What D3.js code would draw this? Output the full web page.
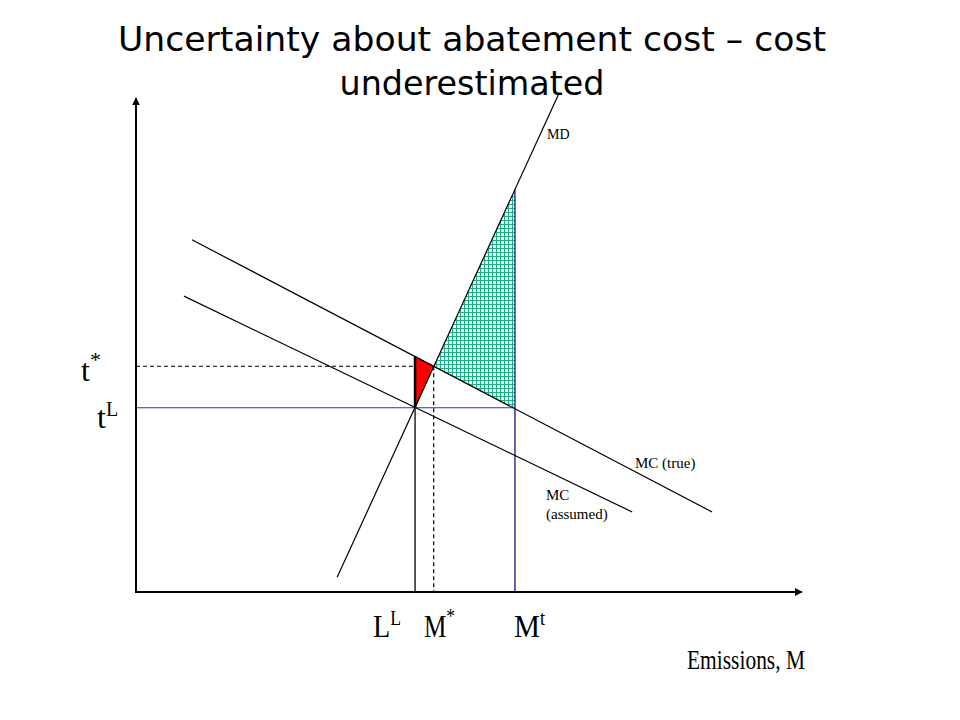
<!DOCTYPE html>
<html><head><meta charset="utf-8">
<script src="https://cdn.jsdelivr.net/npm/d3@7/dist/d3.min.js"></script>
<style>body{margin:0;background:#fff;}svg{display:block;}</style>
</head><body>
<script>
// ---- data (chart units: emissions 0..100, price 0..100) ----
const titleLines = ["Uncertainty about abatement cost \u2013 cost", "underestimated"];
const mdLine = [[30.2, 3.0], [63.4, 100.6]];          // marginal damage
const mcTrueLine = [[8.4, 71.3], [86.5, 16.2]];       // MC (true)
const mcAssumedLine = [[7.2, 59.9], [74.5, 16.2]];    // MC (assumed)
const xMarks = { LL: 41.9, Mstar: 44.7, Mt: 56.9 };
const yMarks = { tstar: 45.7, tL: 37.3 };
const lineLabels = ["MD", "MC (true)", "MC", "(assumed)"];

const W = 960, H = 720;
const x = d3.scaleLinear().domain([0, 100]).range([136, 802]);
const y = d3.scaleLinear().domain([0, 100]).range([592, 98]);

function at(line, xv) {
  const [[x0, y0], [x1, y1]] = line;
  return y0 + (y1 - y0) * (xv - x0) / (x1 - x0);
}

const svg = d3.select("body").append("svg").attr("width", W).attr("height", H);
const defs = svg.append("defs");
const pat = defs.append("pattern").attr("id", "grid").attr("patternUnits", "userSpaceOnUse")
  .attr("width", 4).attr("height", 4);
pat.append("rect").attr("width", 4).attr("height", 4).attr("fill", "#e8fff7");
pat.append("path").attr("d", "M0,0.5H4M0.5,0V4").attr("stroke", "#21ad86").attr("stroke-width", 1.2);
defs.append("marker").attr("id", "arr").attr("viewBox", "0 0 10 10").attr("refX", 9).attr("refY", 5)
  .attr("markerWidth", 8).attr("markerHeight", 8).attr("markerUnits", "userSpaceOnUse").attr("orient", "auto")
  .append("path").attr("d", "M0,0L10,5L0,10Z").attr("fill", "#000");

// title
const titleWidths = [708, 265];
svg.append("g").selectAll("text").data(titleLines).join("text")
  .attr("x", (d, i) => 472 - titleWidths[i] / 2).attr("y", (d, i) => 51 + i * 44)
  .attr("textLength", (d, i) => titleWidths[i]).attr("lengthAdjust", "spacingAndGlyphs")
  .attr("font-family", "'Comic Sans MS', 'DejaVu Sans', sans-serif").attr("font-size", 34)
  .attr("fill", "#000").text(d => d);

const lineGen = d3.line().x(d => x(d[0])).y(d => y(d[1]));

// shaded areas
const ms = xMarks.Mstar, mt = xMarks.Mt, ll = xMarks.LL;
const green = [[ms, at(mdLine, ms)], [mt, at(mdLine, mt)], [mt, at(mcTrueLine, mt)]];
svg.append("path").attr("d", lineGen(green) + "Z").attr("fill", "url(#grid)");
const red = [[ll, at(mcTrueLine, ll)], [ms, at(mcTrueLine, ms)], [ll, yMarks.tL]];
svg.append("path").attr("d", lineGen(red) + "Z").attr("fill", "#ff0000").attr("stroke", "#000").attr("stroke-width", 1);

// guide lines
svg.append("line").attr("x1", x(0)).attr("x2", x(ll)).attr("y1", y(yMarks.tstar)).attr("y2", y(yMarks.tstar))
  .attr("stroke", "#000").attr("stroke-width", 1.2).attr("stroke-dasharray", "4,3");
svg.append("line").attr("x1", x(ms)).attr("x2", x(ms)).attr("y1", y(yMarks.tstar)).attr("y2", y(0))
  .attr("stroke", "#000").attr("stroke-width", 1.2).attr("stroke-dasharray", "4,3");
svg.append("line").attr("x1", x(0)).attr("x2", x(mt)).attr("y1", y(yMarks.tL)).attr("y2", y(yMarks.tL))
  .attr("stroke", "#333399").attr("stroke-width", 1.2);
svg.append("line").attr("x1", x(mt)).attr("x2", x(mt)).attr("y1", y(at(mdLine, mt))).attr("y2", y(0))
  .attr("stroke", "#333399").attr("stroke-width", 1.5);
svg.append("line").attr("x1", x(ll)).attr("x2", x(ll)).attr("y1", y(yMarks.tL)).attr("y2", y(0))
  .attr("stroke", "#000").attr("stroke-width", 1.3);
svg.append("line").attr("x1", x(ll)).attr("x2", x(ll)).attr("y1", y(at(mcTrueLine, ll))).attr("y2", y(yMarks.tL))
  .attr("stroke", "#000").attr("stroke-width", 2.5);

// curves
[mdLine, mcTrueLine, mcAssumedLine].forEach(l => {
  svg.append("path").attr("d", lineGen(l)).attr("fill", "none").attr("stroke", "#000").attr("stroke-width", 1.2);
});

// axes
svg.append("line").attr("x1", x(0)).attr("x2", x(0)).attr("y1", y(0) + 1).attr("y2", y(100))
  .attr("stroke", "#000").attr("stroke-width", 2).attr("marker-end", "url(#arr)");
svg.append("line").attr("x1", x(0) - 1).attr("x2", x(100)).attr("y1", y(0)).attr("y2", y(0))
  .attr("stroke", "#000").attr("stroke-width", 2).attr("marker-end", "url(#arr)");

// labels
const serif = "'Liberation Serif', 'Times New Roman', serif";
function supLabel(px, py, base, sup, size, supSize, supDy, len) {
  const t = svg.append("text").attr("x", px).attr("y", py).attr("font-family", serif)
    .attr("font-size", size).attr("fill", "#000");
  if (len) t.attr("textLength", len).attr("lengthAdjust", "spacingAndGlyphs");
  t.append("tspan").text(base);
  t.append("tspan").attr("font-size", supSize).attr("dy", supDy).text(sup);
}
supLabel(81, 381, "t", "*", 32, 22, -14);
supLabel(97, 428, "t", "L", 32, 20, -12);
supLabel(373, 637, "L", "L", 32, 20, -12, 28);
supLabel(424, 637, "M", "*", 32, 22, -14, 31);
supLabel(514, 637, "M", "t", 32, 20, -12, 31);
svg.append("text").attr("x", 687).attr("y", 669).attr("font-family", serif).attr("font-size", 28)
  .attr("textLength", 118).attr("lengthAdjust", "spacingAndGlyphs")
  .attr("fill", "#000").text("Emissions, M");

const small = svg.append("g").attr("font-family", serif).attr("font-size", 15).attr("fill", "#000");
small.append("text").attr("x", 547).attr("y", 139).attr("font-size", 14).text(lineLabels[0]);
small.append("text").attr("x", 635).attr("y", 468).text(lineLabels[1]);
small.append("text").attr("x", 546).attr("y", 500).text(lineLabels[2]);
small.append("text").attr("x", 546).attr("y", 519).text(lineLabels[3]);
</script>
</body></html>
